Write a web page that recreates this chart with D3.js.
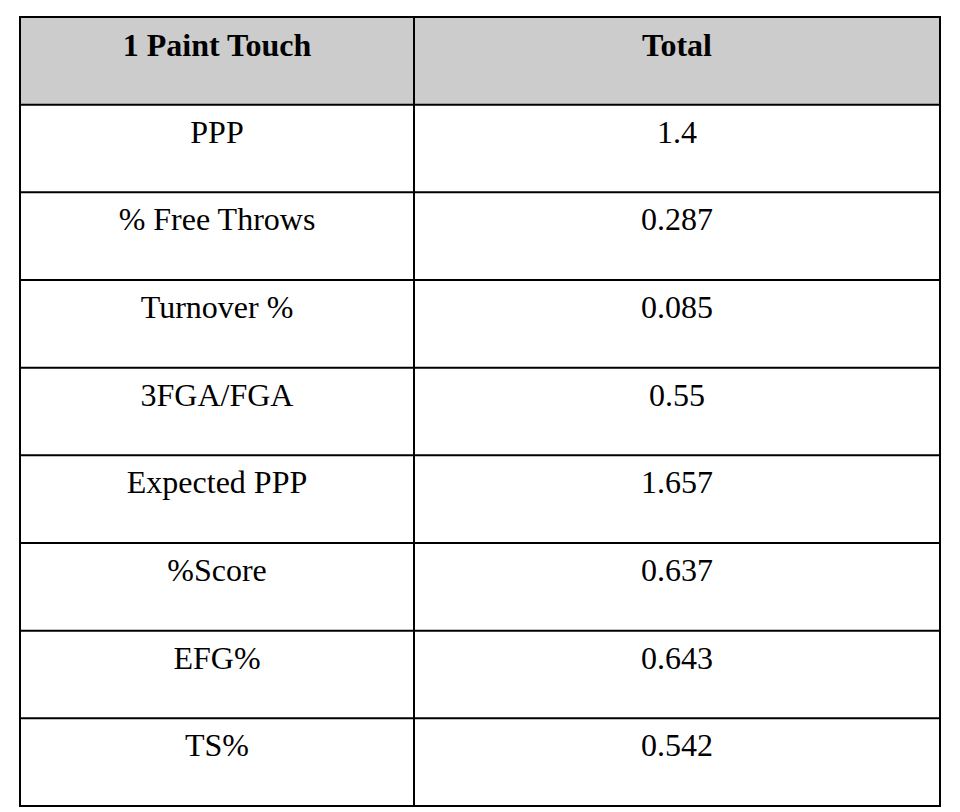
<!DOCTYPE html>
<html>
<head>
<meta charset="utf-8">
<script src="https://cdn.jsdelivr.net/npm/d3@7"></script>
<style>
  html, body { margin: 0; padding: 0; background: #fff; }
  svg { display: block; }
</style>
</head>
<body>
<div id="table"></div>
<script>
// table contents
const headers = ["1 Paint Touch", "Total"];
const metrics = ["PPP", "% Free Throws", "Turnover %", "3FGA/FGA", "Expected PPP", "%Score", "EFG%", "TS%"];
const totals = ["1.4", "0.287", "0.085", "0.55", "1.657", "0.637", "0.643", "0.542"];

const width = 960,
    height = 812,
    tLeft = 20,
    tRight = 940,
    tTop = 17,
    tBottom = 806,
    split = 414; // x of the column divider

const svg = d3.select("#table")
    .append("svg")
    .attr("width", width)
    .attr("height", height);

svg.append("rect")
    .attr("width", width)
    .attr("height", height)
    .attr("fill", "#fff");

// one band per row, header first
const rows = [headers].concat(metrics.map((m, i) => [m, totals[i]]));

const y = d3.scaleBand()
    .domain(d3.range(rows.length))
    .range([tTop, tBottom]);

const colEdges = [tLeft, split, tRight];
const colCenter = i => (colEdges[i] + colEdges[i + 1]) / 2;

// header background
svg.append("rect")
    .attr("x", tLeft)
    .attr("y", y(0))
    .attr("width", tRight - tLeft)
    .attr("height", y.bandwidth())
    .attr("fill", "#cccccc");

// cell texts
const row = svg.selectAll(".row")
    .data(rows)
    .enter()
    .append("g")
    .attr("class", "row")
    .attr("transform", (d, i) => "translate(0," + y(i) + ")");

row.selectAll("text")
    .data((d, i) => d.map(v => ({ text: v, header: i === 0 })))
    .enter()
    .append("text")
    .attr("x", (d, i) => colCenter(i))
    .attr("y", d => d.header ? 39 : 38)
    .attr("text-anchor", "middle")
    .attr("font-family", "'Liberation Serif', 'Times New Roman', serif")
    .attr("font-size", 32)
    .attr("font-weight", d => d.header ? "bold" : "normal")
    .attr("fill", "#000")
    .text(d => d.text);

// grid lines
const lines = svg.append("g")
    .attr("stroke", "#000")
    .attr("stroke-width", 2);

lines.selectAll(".hline")
    .data(d3.range(rows.length + 1))
    .enter()
    .append("line")
    .attr("class", "hline")
    .attr("x1", tLeft - 1)
    .attr("x2", tRight + 1)
    .attr("y1", i => i < rows.length ? y(i) : tBottom)
    .attr("y2", i => i < rows.length ? y(i) : tBottom);

lines.selectAll(".vline")
    .data(colEdges)
    .enter()
    .append("line")
    .attr("class", "vline")
    .attr("x1", d => d)
    .attr("x2", d => d)
    .attr("y1", tTop)
    .attr("y2", tBottom);
</script>
</body>
</html>
